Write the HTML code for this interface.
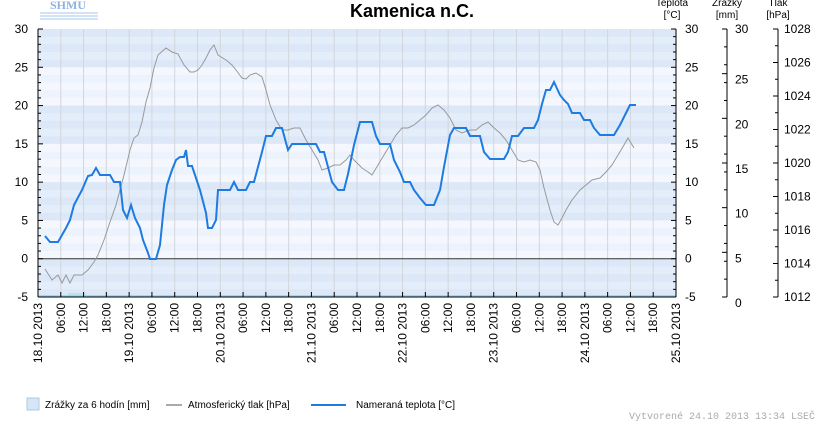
<!DOCTYPE html>
<html><head><meta charset="utf-8"><style>
body{margin:0;background:#fff;width:822px;height:424px;overflow:hidden}
svg{display:block;font-family:"Liberation Sans","DejaVu Sans",sans-serif}
</style></head><body>
<svg id="c" width="822" height="424" xmlns="http://www.w3.org/2000/svg">
<text x="412" y="17" text-anchor="middle" font-size="18" font-weight="bold" fill="#000">Kamenica n.C.</text>
<text x="68" y="9" text-anchor="middle" font-size="12" font-weight="bold" fill="#8fb3e0" font-family="Liberation Serif,serif">SHMU</text>
<g stroke="#a9c6ec" stroke-width="1"><line x1="40" y1="13" x2="98" y2="13"/><line x1="40" y1="16" x2="98" y2="16"/><line x1="40" y1="19" x2="98" y2="19"/></g>
<g id="bg"></g>
<g id="ax" font-size="12" fill="#000"></g>
<polyline fill="none" stroke="#999" stroke-width="1" points="45,269 52,280 58,275 62,283 66,275 70,283 74,275 82,275 88,270 94,262 98,255 104,240 110,222 116,205 124,175 130,150 134,138 138,135 142,122 146,102 150,88 154,68 158,55 166,48 172,52 178,54 184,65 190,72 194,72 198,70 202,65 206,58 210,50 214,45 218,55 226,60 232,65 236,70 242,78 246,79 250,75 256,73 262,77 266,90 270,105 276,120 282,130 288,130 294,128 300,128 306,140 312,150 318,160 322,170 328,168 334,165 340,165 346,160 350,155 354,160 362,168 368,172 372,175 378,165 384,155 390,145 396,135 402,128 408,128 414,125 420,120 426,115 432,108 438,105 444,110 450,118 456,130 462,133 470,130 476,130 482,125 488,122 494,128 500,133 506,140 512,150 518,160 524,162 530,160 536,162 540,170 544,188 550,210 554,222 558,225 562,218 566,210 572,200 580,190 586,185 592,180 600,178 606,172 612,165 618,155 624,145 628,138 634,148"/>
<polyline fill="none" stroke="#1e7be0" stroke-width="2" points="45,236 50,242 58,242 66,228 70,220 74,205 82,190 88,176 92,175 96,168 100,175 110,175 114,182 120,182 123,210 127,218 131,205 135,218 140,228 143,240 148,253 150,259 156,259 160,245 164,205 167,185 172,170 176,160 180,157 184,157 186,150 188,166 192,166 200,190 206,213 208,228 212,228 216,220 218,190 230,190 234,182 238,190 246,190 250,182 254,182 258,167 262,152 266,136 272,136 276,128 282,128 288,150 292,144 310,144 316,144 320,152 324,152 328,167 332,182 338,190 344,190 348,174 354,145 360,122 372,122 376,136 380,144 390,144 394,160 400,172 404,182 410,182 414,190 420,198 426,205 434,205 440,190 444,167 450,135 454,128 466,128 470,136 480,136 484,152 490,159 504,159 508,152 512,136 518,136 524,128 534,128 538,120 542,104 546,90 550,90 554,82 560,95 564,100 568,104 572,113 580,113 584,120 590,120 594,128 600,135 614,135 620,125 626,113 630,105 636,105"/>
<rect x="27" y="398" width="12" height="12" fill="#d6e6f6" stroke="#a9cce8"/>
<text x="45" y="408" font-size="10">Zrážky za 6 hodín [mm]</text>
<line x1="166" y1="405" x2="182" y2="405" stroke="#aaa" stroke-width="2"/>
<text x="188" y="408" font-size="10">Atmosferický tlak [hPa]</text>
<line x1="311" y1="405" x2="346" y2="405" stroke="#1e7be0" stroke-width="2"/>
<text x="356" y="408" font-size="10">Nameraná teplota [°C]</text>
<text x="815" y="419" text-anchor="end" font-size="10" fill="#aaa" font-family="Liberation Mono,monospace">Vytvorené 24.10 2013 13:34 LSEČ</text>
</svg>
<script>
var NS="http://www.w3.org/2000/svg",bg=document.getElementById('bg'),ax=document.getElementById('ax');
function el(p,n,a,t){var e=document.createElementNS(NS,n);for(var k in a)e.setAttribute(k,a[k]);if(t!=null)e.textContent=t;p.appendChild(e);return e;}
var X0=38,X1=676,Y0=29,Y1=297,pu=(Y1-Y0)/35;
function ty(v){return Y0+(30-v)*pu;}
for(var v=30;v>-5;v--){var band=Math.floor((30-v)/5)%2==0;var odd=(30-v)%2==0;
var c=band?(odd?"#dce7f7":"#e4edfa"):(odd?"#edf3fc":"#f4f8fe");
el(bg,"rect",{x:X0,y:ty(v),width:X1-X0,height:pu+0.5,fill:c});}
var dx=(X1-X0)/28;
for(var i=1;i<28;i++)el(bg,"line",{x1:X0+i*dx,y1:Y0,x2:X0+i*dx,y2:Y1,stroke:"#d2d6dc","stroke-width":1});
el(bg,"line",{x1:X0,y1:ty(0),x2:X1,y2:ty(0),stroke:"#333","stroke-width":1});
el(bg,"rect",{x:68,y:293,width:18,height:4,fill:"#bfe0ee"});
el(bg,"line",{x1:X0,y1:296,x2:X1,y2:296,stroke:"#8fd3ec","stroke-width":1.5});
el(ax,"line",{x1:X0,y1:Y0,x2:X0,y2:Y1,stroke:"#000"});
el(ax,"line",{x1:X0,y1:Y1,x2:X1,y2:Y1,stroke:"#000"});
for(var v=30;v>=-5;v--){var y=ty(v);var big=v%5==0;
el(ax,"line",{x1:X0,y1:y,x2:X0+(big?5:3),y2:y,stroke:"#000"});
el(ax,"line",{x1:X1,y1:y,x2:X1-(big?5:3),y2:y,stroke:"#000"});
if(big){el(ax,"text",{x:28,y:y+4,"text-anchor":"end"},v);el(ax,"text",{x:685,y:y+4},v);}}
el(ax,"line",{x1:X1,y1:Y0,x2:X1,y2:Y1,stroke:"#000"});
// zrazky axis
var ZX=727;el(ax,"line",{x1:ZX,y1:Y0,x2:ZX,y2:Y1,stroke:"#000"});
for(var v=0;v<=30;v++){var y=Y1-v*(Y1-Y0)/30;var big=v%5==0;
if(v%1==0&&(v%2==0||big))el(ax,"line",{x1:ZX-(big?5:3),y1:y,x2:ZX,y2:y,stroke:"#000"});
if(big)el(ax,"text",{x:735,y:y+(v==30?4:10)},v);}
// tlak axis
var PX=778;el(ax,"line",{x1:PX,y1:Y0,x2:PX,y2:Y1,stroke:"#000"});
for(var p=1012;p<=1028;p+=1){var y=Y1-(p-1012)*(Y1-Y0)/16;var big=p%2==0;
el(ax,"line",{x1:PX-(big?5:3),y1:y,x2:PX,y2:y,stroke:"#000"});
if(big)el(ax,"text",{x:784,y:y+4},p);}
// headers
var h=[[672,"Teplota","[°C]"],[727,"Zrážky","[mm]"],[778,"Tlak","[hPa]"]];
h.forEach(function(a){el(ax,"text",{x:a[0],y:6,"text-anchor":"middle","font-size":10},a[1]);el(ax,"text",{x:a[0],y:18,"text-anchor":"middle","font-size":10},a[2]);});
// x ticks and labels
var days=["18.10 2013","19.10 2013","20.10 2013","21.10 2013","22.10 2013","23.10 2013","24.10 2013","25.10 2013"],hrs=["06:00","12:00","18:00"];
for(var i=0;i<=28;i++){var x=X0+i*dx;el(ax,"line",{x1:x,y1:Y1,x2:x,y2:Y1-5,stroke:"#000"});
var t=i%4==0?days[i/4]:hrs[i%4-1];
el(ax,"text",{x:0,y:0,"text-anchor":"end",transform:"translate("+(x+4)+",303) rotate(-90)"},t);}
</script>
</body></html>
